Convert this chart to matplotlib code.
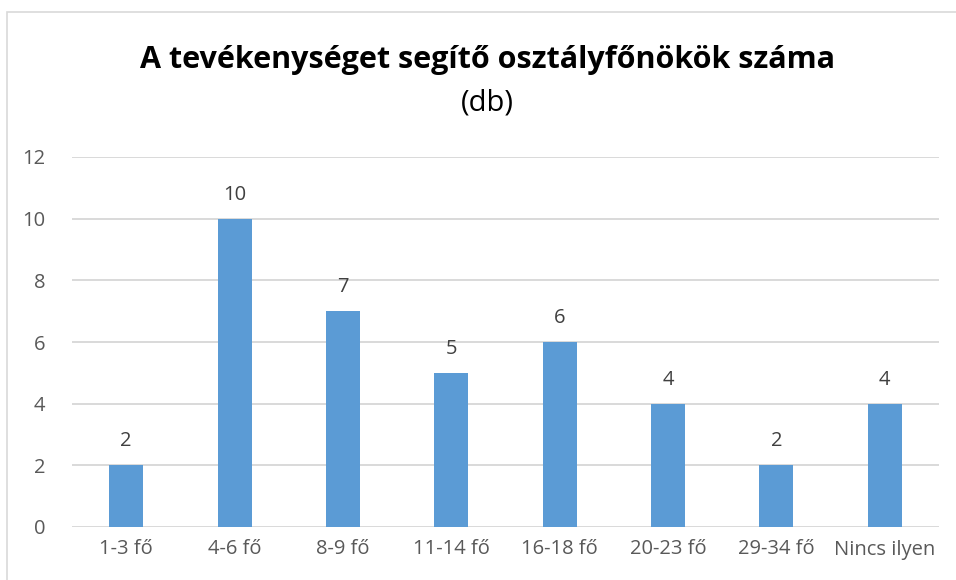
import matplotlib
matplotlib.use("Agg")
import matplotlib.pyplot as plt
from matplotlib.patches import Rectangle

categories = ["1-3 fő", "4-6 fő", "8-9 fő", "11-14 fő", "16-18 fő", "20-23 fő", "29-34 fő", "Nincs ilyen"]
values = [2, 10, 7, 5, 6, 4, 2, 4]
yticks = [0, 2, 4, 6, 8, 10, 12]

plt.rcParams['font.family'] = ['Open Sans', 'DejaVu Sans']

fig = plt.figure(figsize=(9.56, 5.8), dpi=100)
fig.patch.set_facecolor("white")
ax = fig.add_axes([72/956, 1-527/580, (939-72)/956, (527-157)/580])

x = list(range(len(categories)))
ax.bar(x, values, width=0.314, color="#5B9BD5", zorder=3)
ax.set_xlim(-0.5, len(categories)-0.5)
ax.set_ylim(0, 12)
ax.set_yticks(yticks)
ax.set_xticks(x)
ax.set_xticklabels(categories)
ax.tick_params(axis='both', length=0, labelsize=14.5, colors="#595959")
ax.tick_params(axis='y', pad=19)
ax.tick_params(axis='x', pad=9)
ax.grid(axis='y', color="#D9D9D9", linewidth=1.4, zorder=0)
for s in ax.spines.values():
    s.set_visible(False)

for xi, v in zip(x, values):
    ax.annotate(str(v), (xi, v), xytext=(0, 10), textcoords="offset points",
                ha="center", va="bottom", fontsize=14.5, color="#404040")

fig.text(487/956, 1-60/580, "A tevékenységet segítő osztályfőnökök száma",
         ha="center", va="center", fontsize=22, fontweight="bold", color="black")
fig.text(487/956, 1-103/580, "(db)", ha="center", va="center", fontsize=21, color="black")

fig.patches.append(Rectangle((7/956, -0.1), 1.2, 0.1 + 1-12/580, transform=fig.transFigure,
                             fill=False, edgecolor="#D9D9D9", linewidth=1.2))

fig.savefig("out.png", dpi=100)
